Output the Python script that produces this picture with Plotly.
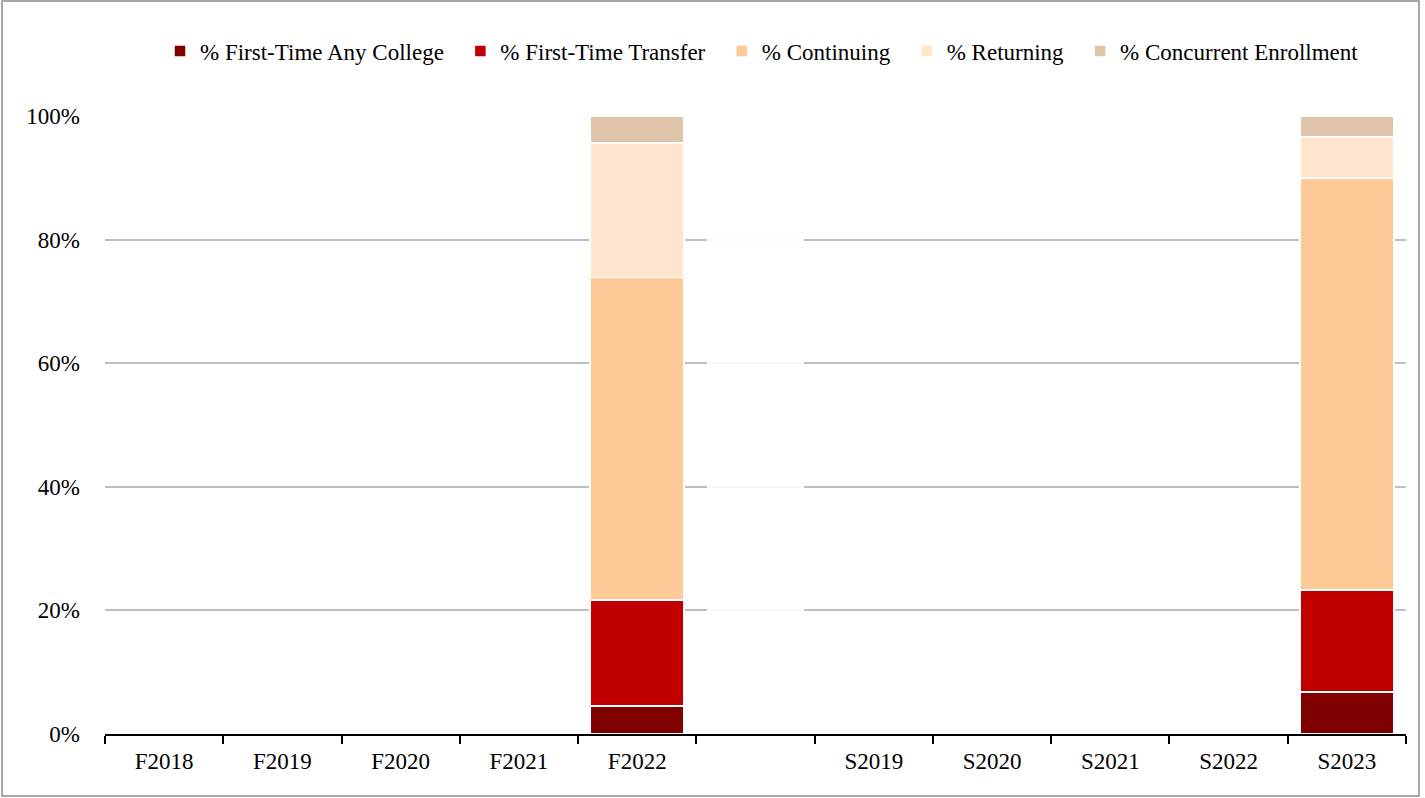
import plotly.graph_objects as go

categories = ["F2018", "F2019", "F2020", "F2021", "F2022", " ",
              "S2019", "S2020", "S2021", "S2022", "S2023"]
first_time_any = [None, None, None, None, 4.5, None, None, None, None, None, 6.8]
first_time_transfer = [None, None, None, None, 17.2, None, None, None, None, None, 16.5]
continuing = [None, None, None, None, 52.2, None, None, None, None, None, 66.7]
returning = [None, None, None, None, 21.7, None, None, None, None, None, 6.6]
concurrent = [None, None, None, None, 4.4, None, None, None, None, None, 3.4]
spacer = [None, None, None, None, None, 100, None, None, None, None, None]
y_ticks = [0, 20, 40, 60, 80, 100]
y_tick_labels = ["0%", "20%", "40%", "60%", "80%", "100%"]
series_names = ["% First-Time Any College", "% First-Time Transfer", "% Continuing",
                "% Returning", "% Concurrent Enrollment"]
series_colors = ["#7F0000", "#C00000", "#FFCA97", "#FFE5CC", "#DEC5AA"]
series_values = [first_time_any, first_time_transfer, continuing, returning, concurrent]

font_family = "Liberation Serif, Times New Roman, serif"
pad = "\u00a0\u00a0"

fig = go.Figure()
fig.add_trace(go.Bar(x=categories, y=spacer, showlegend=False, hoverinfo="skip",
                     marker=dict(color="rgba(255,255,255,0.88)",
                                 line=dict(color="white", width=2))))
for i, (name, vals, color) in enumerate(zip(series_names, series_values, series_colors)):
    label = name + (pad if i < len(series_names) - 1 else "")
    fig.add_trace(go.Bar(x=categories, y=vals, name=label,
                         marker=dict(color=color, line=dict(color="white", width=1.5))))

W, H = 1425, 798
ml, mr, mt, mb = 105, 19, 116, 64
pw, ph = W - ml - mr, H - mt - mb

fig.update_layout(
    width=W, height=H,
    margin=dict(l=ml, r=mr, t=mt, b=mb),
    barmode="stack", bargap=0.205,
    plot_bgcolor="white", paper_bgcolor="white",
    font=dict(family=font_family, size=23, color="black"),
    legend=dict(orientation="h", x=0.505, xanchor="center",
                y=(H - mb - 51) / ph, yanchor="middle",
                font=dict(size=23, family=font_family),
                traceorder="normal"),
    xaxis=dict(type="category", showgrid=False, showline=True, linecolor="black",
               linewidth=2, ticks="outside", tickson="boundaries", ticklen=8,
               tickwidth=2, tickcolor="black", ticklabelstandoff=5,
               tickfont=dict(size=23, family=font_family)),
    yaxis=dict(range=[0, 100], tickmode="array", tickvals=y_ticks, ticktext=y_tick_labels,
               showgrid=True, gridcolor="#BFBFBF", gridwidth=2, zeroline=False,
               showline=False, ticklabelstandoff=24,
               tickfont=dict(size=23, family=font_family)),
    shapes=[dict(type="rect", xref="paper", yref="paper",
                 x0=(2 - ml) / pw, x1=(1419 - ml) / pw,
                 y0=(H - mb - 796) / ph, y1=(H - mb - 1) / ph,
                 line=dict(color="#8C8C8C", width=1.5), fillcolor="rgba(0,0,0,0)",
                 layer="above")],
)

fig.write_html("out.html", config={"displayModeBar": False},
               post_script="document.body.style.margin='0px';")
